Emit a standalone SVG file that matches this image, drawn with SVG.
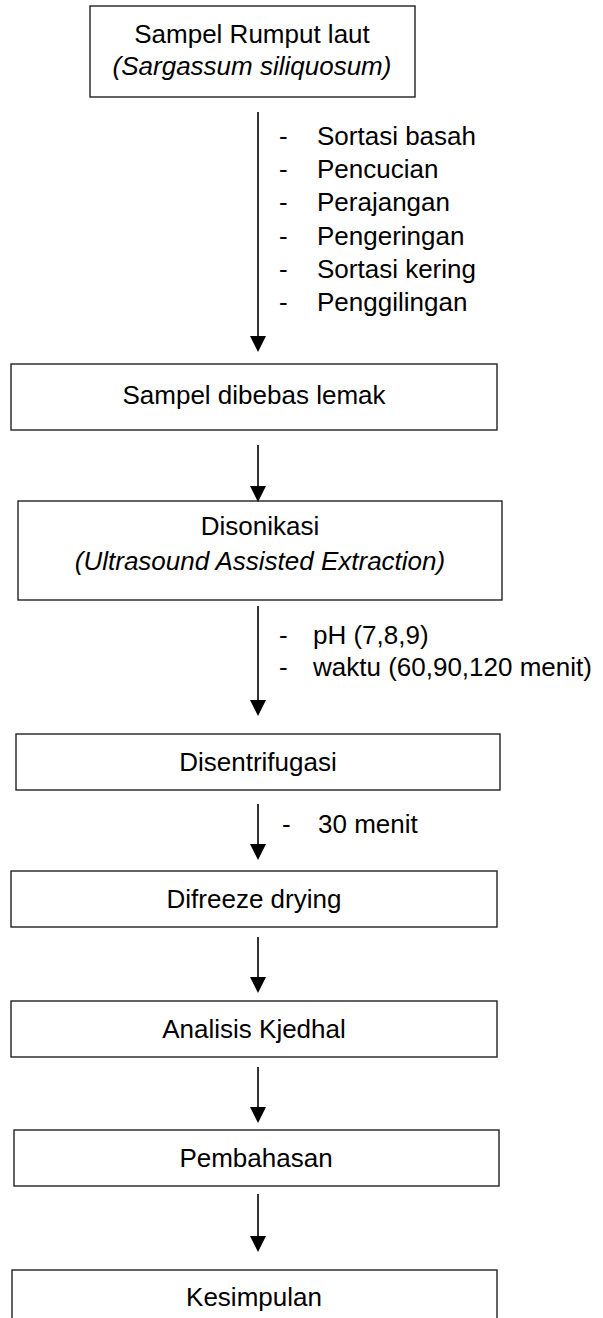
<svg xmlns="http://www.w3.org/2000/svg" width="603" height="1318" viewBox="0 0 603 1318">
<defs>
<style>
.box{fill:#fff;stroke:#222;stroke-width:1.4}
.t{font-family:"Liberation Sans",Arial,sans-serif;font-size:26px;fill:#000}
.c{text-anchor:middle}
.i{font-style:italic}
.ln{stroke:#000;stroke-width:1.6;fill:none}
</style>
<marker id="ah" markerUnits="userSpaceOnUse" markerWidth="16" markerHeight="16" refX="6" refY="8" orient="auto">
<path d="M0,0 L16,8 L0,16 z" fill="#000"/>
</marker>
</defs>
<rect width="603" height="1318" fill="#fff"/>
<g id="n1"><rect class="box" x="90" y="6" width="325" height="91"/>
<text class="t c" x="252" y="43">Sampel Rumput laut</text>
<text class="t c i" x="252" y="75">(Sargassum siliquosum)</text></g>
<g id="n2"><rect class="box" x="11" y="364" width="486" height="66"/>
<text class="t c" x="254" y="404">Sampel dibebas lemak</text></g>
<g id="n3"><rect class="box" x="18" y="501" width="484" height="99"/>
<text class="t c" x="260" y="535">Disonikasi</text>
<text class="t c i" x="260" y="570">(Ultrasound Assisted Extraction)</text></g>
<g id="n4"><rect class="box" x="16" y="734" width="484" height="56"/>
<text class="t c" x="258" y="771">Disentrifugasi</text></g>
<g id="n5"><rect class="box" x="11" y="871" width="486" height="56"/>
<text class="t c" x="254" y="908">Difreeze drying</text></g>
<g id="n6"><rect class="box" x="11" y="1001" width="486" height="56"/>
<text class="t c" x="254" y="1038">Analisis Kjedhal</text></g>
<g id="n7"><rect class="box" x="14" y="1130" width="485" height="56"/>
<text class="t c" x="256" y="1167">Pembahasan</text></g>
<g id="n8"><rect class="box" x="12" y="1270" width="485" height="60"/>
<text class="t c" x="254" y="1306">Kesimpulan</text></g>
<g id="connectors">
<line class="ln" x1="258" y1="112" x2="258" y2="342" marker-end="url(#ah)"/>
<line class="ln" x1="258" y1="445" x2="258" y2="492" marker-end="url(#ah)"/>
<line class="ln" x1="258" y1="606" x2="258" y2="706" marker-end="url(#ah)"/>
<line class="ln" x1="258" y1="804" x2="258" y2="850" marker-end="url(#ah)"/>
<line class="ln" x1="258" y1="937" x2="258" y2="983" marker-end="url(#ah)"/>
<line class="ln" x1="258" y1="1067" x2="258" y2="1113" marker-end="url(#ah)"/>
<line class="ln" x1="258" y1="1194" x2="258" y2="1242" marker-end="url(#ah)"/>
</g>
<g id="labels">
<text class="t" x="279" y="145">-</text><text class="t" x="317" y="145">Sortasi basah</text>
<text class="t" x="279" y="178">-</text><text class="t" x="317" y="178">Pencucian</text>
<text class="t" x="279" y="211">-</text><text class="t" x="317" y="211">Perajangan</text>
<text class="t" x="279" y="245">-</text><text class="t" x="317" y="245">Pengeringan</text>
<text class="t" x="279" y="278">-</text><text class="t" x="317" y="278">Sortasi kering</text>
<text class="t" x="279" y="311">-</text><text class="t" x="317" y="311">Penggilingan</text>
<text class="t" x="279" y="644">-</text><text class="t" x="313" y="644">pH (7,8,9)</text>
<text class="t" x="279" y="676">-</text><text class="t" x="313" y="676">waktu (60,90,120 menit)</text>
<text class="t" x="282" y="833">-</text><text class="t" x="318" y="833">30 menit</text>
</g>
</svg>
